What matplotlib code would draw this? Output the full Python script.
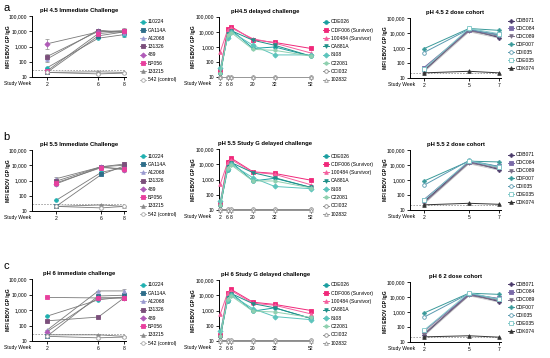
import matplotlib
matplotlib.use("Agg")
import matplotlib.pyplot as plt
from matplotlib.ticker import FixedLocator, FixedFormatter, NullLocator

plt.rcParams['font.family'] = ['Liberation Sans', 'DejaVu Sans']

W, H = 550, 358

# ---------------- data ----------------
imm_weeks = [2, 6, 8]
imm_names = ['110224', 'GA114A', 'A12068', '131326', '489', 'BP056', '133215', '542 (control)']
imm_ph45 = [[40, 3500, 6000], [20, 5000, 9000], [150, 12000, 8000], [220, 10000, 10000],
            [1500, 9000, 11000], [25, 7000, 10000], [20, 22, 20], [20, 16, 18]]
imm_ph55 = [[50, 3500, 7000], [20, 2500, 9000], [1300, 8000, 10000], [900, 8000, 12000],
            [600, 8000, 5000], [700, 7000, 6000], [20, 25, 20], [20, 16, 20]]
imm_ph6 = [[400, 4500, 7000], [20, 8000, 9000], [50, 17000, 17000], [200, 350, 6000],
           [40, 6000, 6000], [6500, 6000, 6000], [25, 25, 20], [20, 16, 18]]
# fold error (1 = no visible bar)
imm_err45 = [[1, 1, 1.4], [1, 1, 1.5], [1.6, 1, 1.4], [1.4, 1, 1.3],
             [2.2, 1, 1.6], [1, 1, 1.4], [1, 1, 1], [1, 1.2, 1]]
imm_err55 = [[1, 1, 1.3], [1, 1, 1.3], [1.3, 1, 1.3], [1.3, 1, 1.3],
             [1.3, 1, 1.3], [1.3, 1, 1.3], [1, 1, 1], [1, 1.2, 1]]
imm_err6 = [[1, 1, 1.3], [1, 1, 1.3], [1, 1, 1.3], [1, 1, 1.3],
            [1, 1, 1.3], [1, 1, 1.3], [1, 1, 1], [1, 1.2, 1]]
imm_titles = ['pH 4.5 Immediate Challenge', 'pH 5.5 Immediate Challenge', 'pH 6 immediate challenge']
imm_cutoff = 30

del_weeks = [2, 6, 8, 20, 32, 52]
del_names = ['CDE026', 'CDF006 (Survivor)', '100484 (Survivor)', 'CA881A', '8108', 'C22081', 'CCI032', '102832']
del_ph45 = [[20, 5000, 14000, 800, 1000, 250], [30, 15000, 22000, 3000, 2000, 800],
            [500, 13000, 18000, 3500, 1800, 400], [15, 7000, 12000, 2800, 1300, 250],
            [40, 4000, 10000, 1300, 300, 300], [20, 6000, 9000, 700, 600, 250],
            [11, 11, 11, 11, 11, 11], [10, 10, 10, 10, 10, 10]]
del_ph55 = [[20, 4000, 14000, 800, 1200, 300], [30, 15000, 25000, 3200, 2500, 900],
            [500, 13000, 20000, 3000, 2200, 450], [15, 7000, 13000, 2800, 1300, 300],
            [40, 5000, 10000, 1300, 350, 250], [20, 6000, 9000, 800, 800, 280],
            [11, 11, 11, 11, 11, 11], [10, 10, 10, 10, 10, 10]]
del_ph6 = [[20, 4500, 14000, 900, 1500, 300], [25, 15000, 24000, 3500, 2500, 1000],
           [600, 14000, 20000, 3000, 2200, 600], [15, 7000, 13000, 2800, 1500, 300],
           [45, 5000, 10000, 1300, 400, 250], [20, 6000, 9000, 900, 800, 350],
           [11, 11, 11, 11, 11, 11], [10, 10, 10, 10, 10, 10]]
del_titles = ['pH4.5 delayed challenge', 'pH 5.5 Study G delayed challenge', 'pH 6 Study G delayed challenge']

dose_weeks = [2, 5, 7]
dose_names = ['CDB071', 'CDC084', 'CDC089', 'CDF007', 'CDI035', 'CDE035', 'CDK074']
dose_ph45 = [[30, 17000, 5000], [50, 15000, 8000], [35, 14000, 6000], [900, 20000, 15000],
             [500, 18000, 7000], [40, 20000, 9000], [22, 28, 22]]
dose_ph55 = [[35, 17000, 5000], [50, 16000, 8000], [30, 14000, 6000], [850, 18000, 16000],
             [450, 20000, 8000], [45, 19000, 7000], [22, 28, 24]]
dose_ph6 = [[30, 16000, 5000], [55, 15000, 8000], [35, 13000, 6000], [850, 18000, 15000],
            [450, 17000, 7000], [60, 19000, 7000], [22, 26, 21]]
dose_extra = [[25, 12000, 4500], [28, 13000, 5500], [32, 14000, 6500], [38, 15000, 7000],
              [42, 16000, 7500], [48, 17000, 8000]]
dose_titles = ['pH 4.5 2 dose cohort', 'pH 5.5 2 dose cohort', 'pH 6 2 dose cohort']
dose_cutoff = 22

yticks = [10, 100, 1000, 10000, 100000]
ylabels = ['10', '100', '1,000', '10,000', '100,000']

# ---------------- styles ----------------
imm_styles = [('#1fb0b0', 'o', True), ('#2f6e8a', 's', True), ('#9a9ad0', '^', True),
              ('#7b4f7b', 's', True), ('#b05ab8', 'D', True), ('#e8409e', 's', True),
              ('#8a8a8a', '^', True), ('#a8a8a8', 'o', False)]
del_styles = [('#1a9ea0', 'o', True), ('#f0287a', 's', True), ('#f4609e', '^', True),
              ('#1f8f88', 'v', True), ('#5cc4bc', 'D', True), ('#8fd0b0', 'h', True),
              ('#8a8a8a', 'o', False), ('#9a9a9a', '^', False)]
dose_styles = [('#4a3a6a', 'P', True), ('#7a6aa8', 's', True), ('#7a6f88', 'v', True),
               ('#3a9a9a', 'P', True), ('#5a9ab0', 'o', False), ('#7ec8c8', 's', False),
               ('#333333', '^', True)]

fig = plt.figure(figsize=(W / 100, H / 100), dpi=100)


def add_ax(x0, x1, ytop, ybot):
    return fig.add_axes([x0 / W, 1 - ybot / H, (x1 - x0) / W, (ybot - ytop) / H])


def style_ax(ax, xlim, xticks, title, ylab_x, leg_x, leg_ytop, sw_x, handles, labels, lsp):
    ax.set_yscale('log')
    ax.set_ylim(10, 100000)
    ax.set_xlim(*xlim)
    ax.yaxis.set_major_locator(FixedLocator(yticks))
    ax.yaxis.set_major_formatter(FixedFormatter(ylabels))
    ax.yaxis.set_minor_locator(NullLocator())
    ax.set_xticks(xticks)
    ax.set_xticklabels([str(t) for t in xticks])
    for s in ['top', 'right']:
        ax.spines[s].set_visible(False)
    for s in ['left', 'bottom']:
        ax.spines[s].set_linewidth(0.7)
    ax.tick_params(axis='both', labelsize=3.6, length=2, width=0.6, pad=1.5)
    ax.set_title(title, fontsize=4.2, fontweight='bold', pad=3)
    bb = ax.get_position()
    fig.text(ylab_x / W, bb.y0 + bb.height / 2, 'MFI EBOV GP IgG', rotation=90,
             fontsize=3.6, fontweight='bold', ha='center', va='center')
    fig.text(sw_x / W, bb.y0 - 6.5 / H, 'Study Week', fontsize=3.6, ha='left', va='center')
    fig.legend(handles, labels, loc='upper left', bbox_to_anchor=(leg_x / W, 1 - leg_ytop / H),
               frameon=False, fontsize=3.6, handlelength=1.2, handletextpad=0.4,
               labelspacing=lsp, borderpad=0, borderaxespad=0)


rows = [
    dict(letter='a', ly=8, imm=imm_ph45, err=imm_err45, dl=del_ph45, ds=dose_ph45,
         L=(16, 77), M=(16.7, 77.3), R=(18, 78), lx=(0.83, 8.16), ly_leg=19.3),
    dict(letter='b', ly=137, imm=imm_ph55, err=imm_err55, dl=del_ph55, ds=dose_ph55,
         L=(150, 211), M=(149, 210), R=(150, 210), lx=(-0.12, 8.16), ly_leg=153.5),
    dict(letter='c', ly=266, imm=imm_ph6, err=imm_err6, dl=del_ph6, ds=dose_ph6,
         L=(279, 341), M=(280, 341), R=(282, 342), lx=(0.83, 8.16), ly_leg=282.5),
]

for i, r in enumerate(rows):
    fig.text(3 / W, 1 - r['ly'] / H, r['letter'], fontsize=8, ha='left', va='center')

    # immediate challenge
    ax = add_ax(32, 126, *r['L'])
    handles = []
    ax.plot([r['lx'][0], 8], [imm_cutoff, imm_cutoff], ls=(0, (2, 1.5)), color='#9a9a9a', lw=0.6, zorder=1)
    for vals, errs, (c, m, filled) in zip(r['imm'], r['err'], imm_styles):
        lo = [v - v / e for v, e in zip(vals, errs)]
        hi = [v * e - v for v, e in zip(vals, errs)]
        ax.errorbar(imm_weeks, vals, yerr=[lo, hi], fmt='none', ecolor='#8a8a8a',
                    elinewidth=0.5, capsize=1.2, capthick=0.5, zorder=2)
        ax.plot(imm_weeks, vals, color='#7a7a7a', lw=0.6, marker=m, ms=2.6,
                mfc=c if filled else 'white', mec=c, mew=0.6, zorder=3)
        handles.append(plt.Line2D([], [], color=c, lw=0.6, marker=m, ms=2.6,
                                  mfc=c if filled else 'white', mec=c, mew=0.6))
    style_ax(ax, r['lx'], imm_weeks, imm_titles[i], 9, 140, r['ly_leg'], 4, handles, imm_names, 0.66)

    # delayed challenge
    ax = add_ax(219, 312, *r['M'])
    handles = []
    for vals, (c, m, filled) in zip(r['dl'], del_styles):
        h, = ax.plot(del_weeks, vals, color=c, lw=0.7, marker=m, ms=2.6,
                     mfc=c if filled else 'white', mec=c, mew=0.6, zorder=3, clip_on=False)
        handles.append(h)
    style_ax(ax, (1.28, 52.55), del_weeks, del_titles[i], 193, 323, r['ly_leg'], 184, handles, del_names, 0.66)

    # 2 dose cohort
    ax = add_ax(410, 501, *r['R'])
    ax.plot([1.07, 7], [dose_cutoff, dose_cutoff], ls=(0, (2, 1.5)), color='#9a9a9a', lw=0.6, zorder=1)
    for vals in dose_extra:
        ax.plot(dose_weeks, vals, color='#c8c8c8', lw=0.6, zorder=2)
    handles = []
    for vals, (c, m, filled) in zip(r['ds'], dose_styles):
        h, = ax.plot(dose_weeks, vals, color=c, lw=0.7, marker=m, ms=2.6,
                     mfc=c if filled else 'white', mec=c, mew=0.6, zorder=3)
        handles.append(h)
    style_ax(ax, (1.07, 7.13), dose_weeks, dose_titles[i], 385, 508, r['ly_leg'] - 1, 388, handles, dose_names, 0.58)

fig.savefig('out.png', dpi=100)
